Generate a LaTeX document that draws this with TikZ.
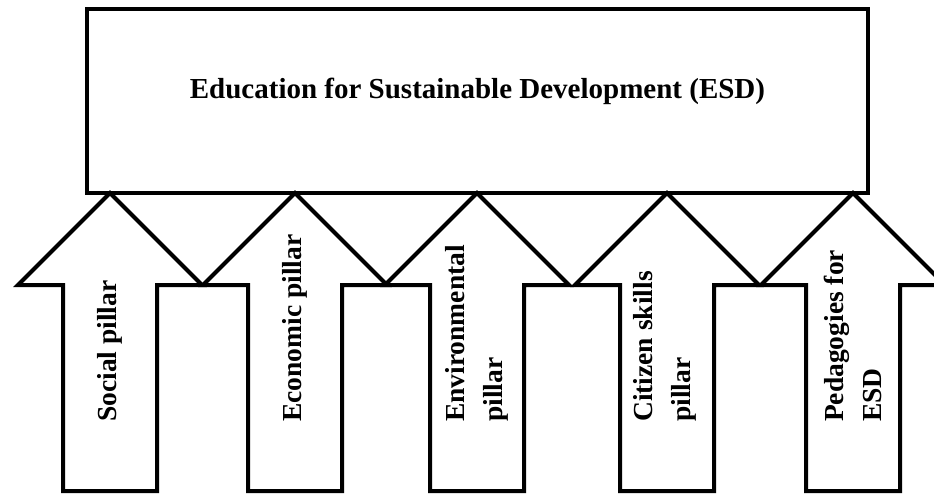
\documentclass[tikz,border=0pt]{standalone}
\usepackage{fontspec}
\setmainfont{Liberation Serif}
\usepackage{tikz}
\usetikzlibrary{positioning}
\tikzset{
  esdbox/.style={draw, line width=4pt, minimum width=781pt, minimum height=184pt, inner sep=0pt},
  esdtitle/.style={inner sep=0pt, font=\bfseries\fontsize{29}{34}\selectfont},
  pillar/.style={draw, line width=4pt, fill=white},
  pillartext/.style={rotate=90, anchor=west, align=left, inner sep=0pt, font=\bfseries\fontsize{27.5}{38}\selectfont},
}
\begin{document}
\begin{tikzpicture}[x=1pt,y=-1pt]
  \useasboundingbox (0,0) rectangle (934,495);
  \clip (0,0) rectangle (934,495);
  \node[esdbox] (esd) at (477.5,101) {};
  \node[esdtitle, below=71pt of esd.north] (title) {Education for Sustainable Development (ESD)};
  % pillars under the box
  \foreach \x in {110,295,477,667,853} {
    \draw[pillar] (\x,193) -- (\x+92,285) -- (\x+47,285) -- (\x+47,491) -- (\x-47,491) -- (\x-47,285) -- (\x-92,285) -- cycle;
  }
  \node[pillartext] (social) at (110,422) {Social pillar};
  \node[pillartext] (economic) at (295,422) {Economic pillar};
  \node[pillartext] (environ) at (477,422) {Environmental\\pillar};
  \node[pillartext] (citizen) at (665,422) {Citizen skills\\pillar};
  \node[pillartext] (pedagogy) at (853,422) {Pedagogies for\\ESD};
\end{tikzpicture}
\end{document}
